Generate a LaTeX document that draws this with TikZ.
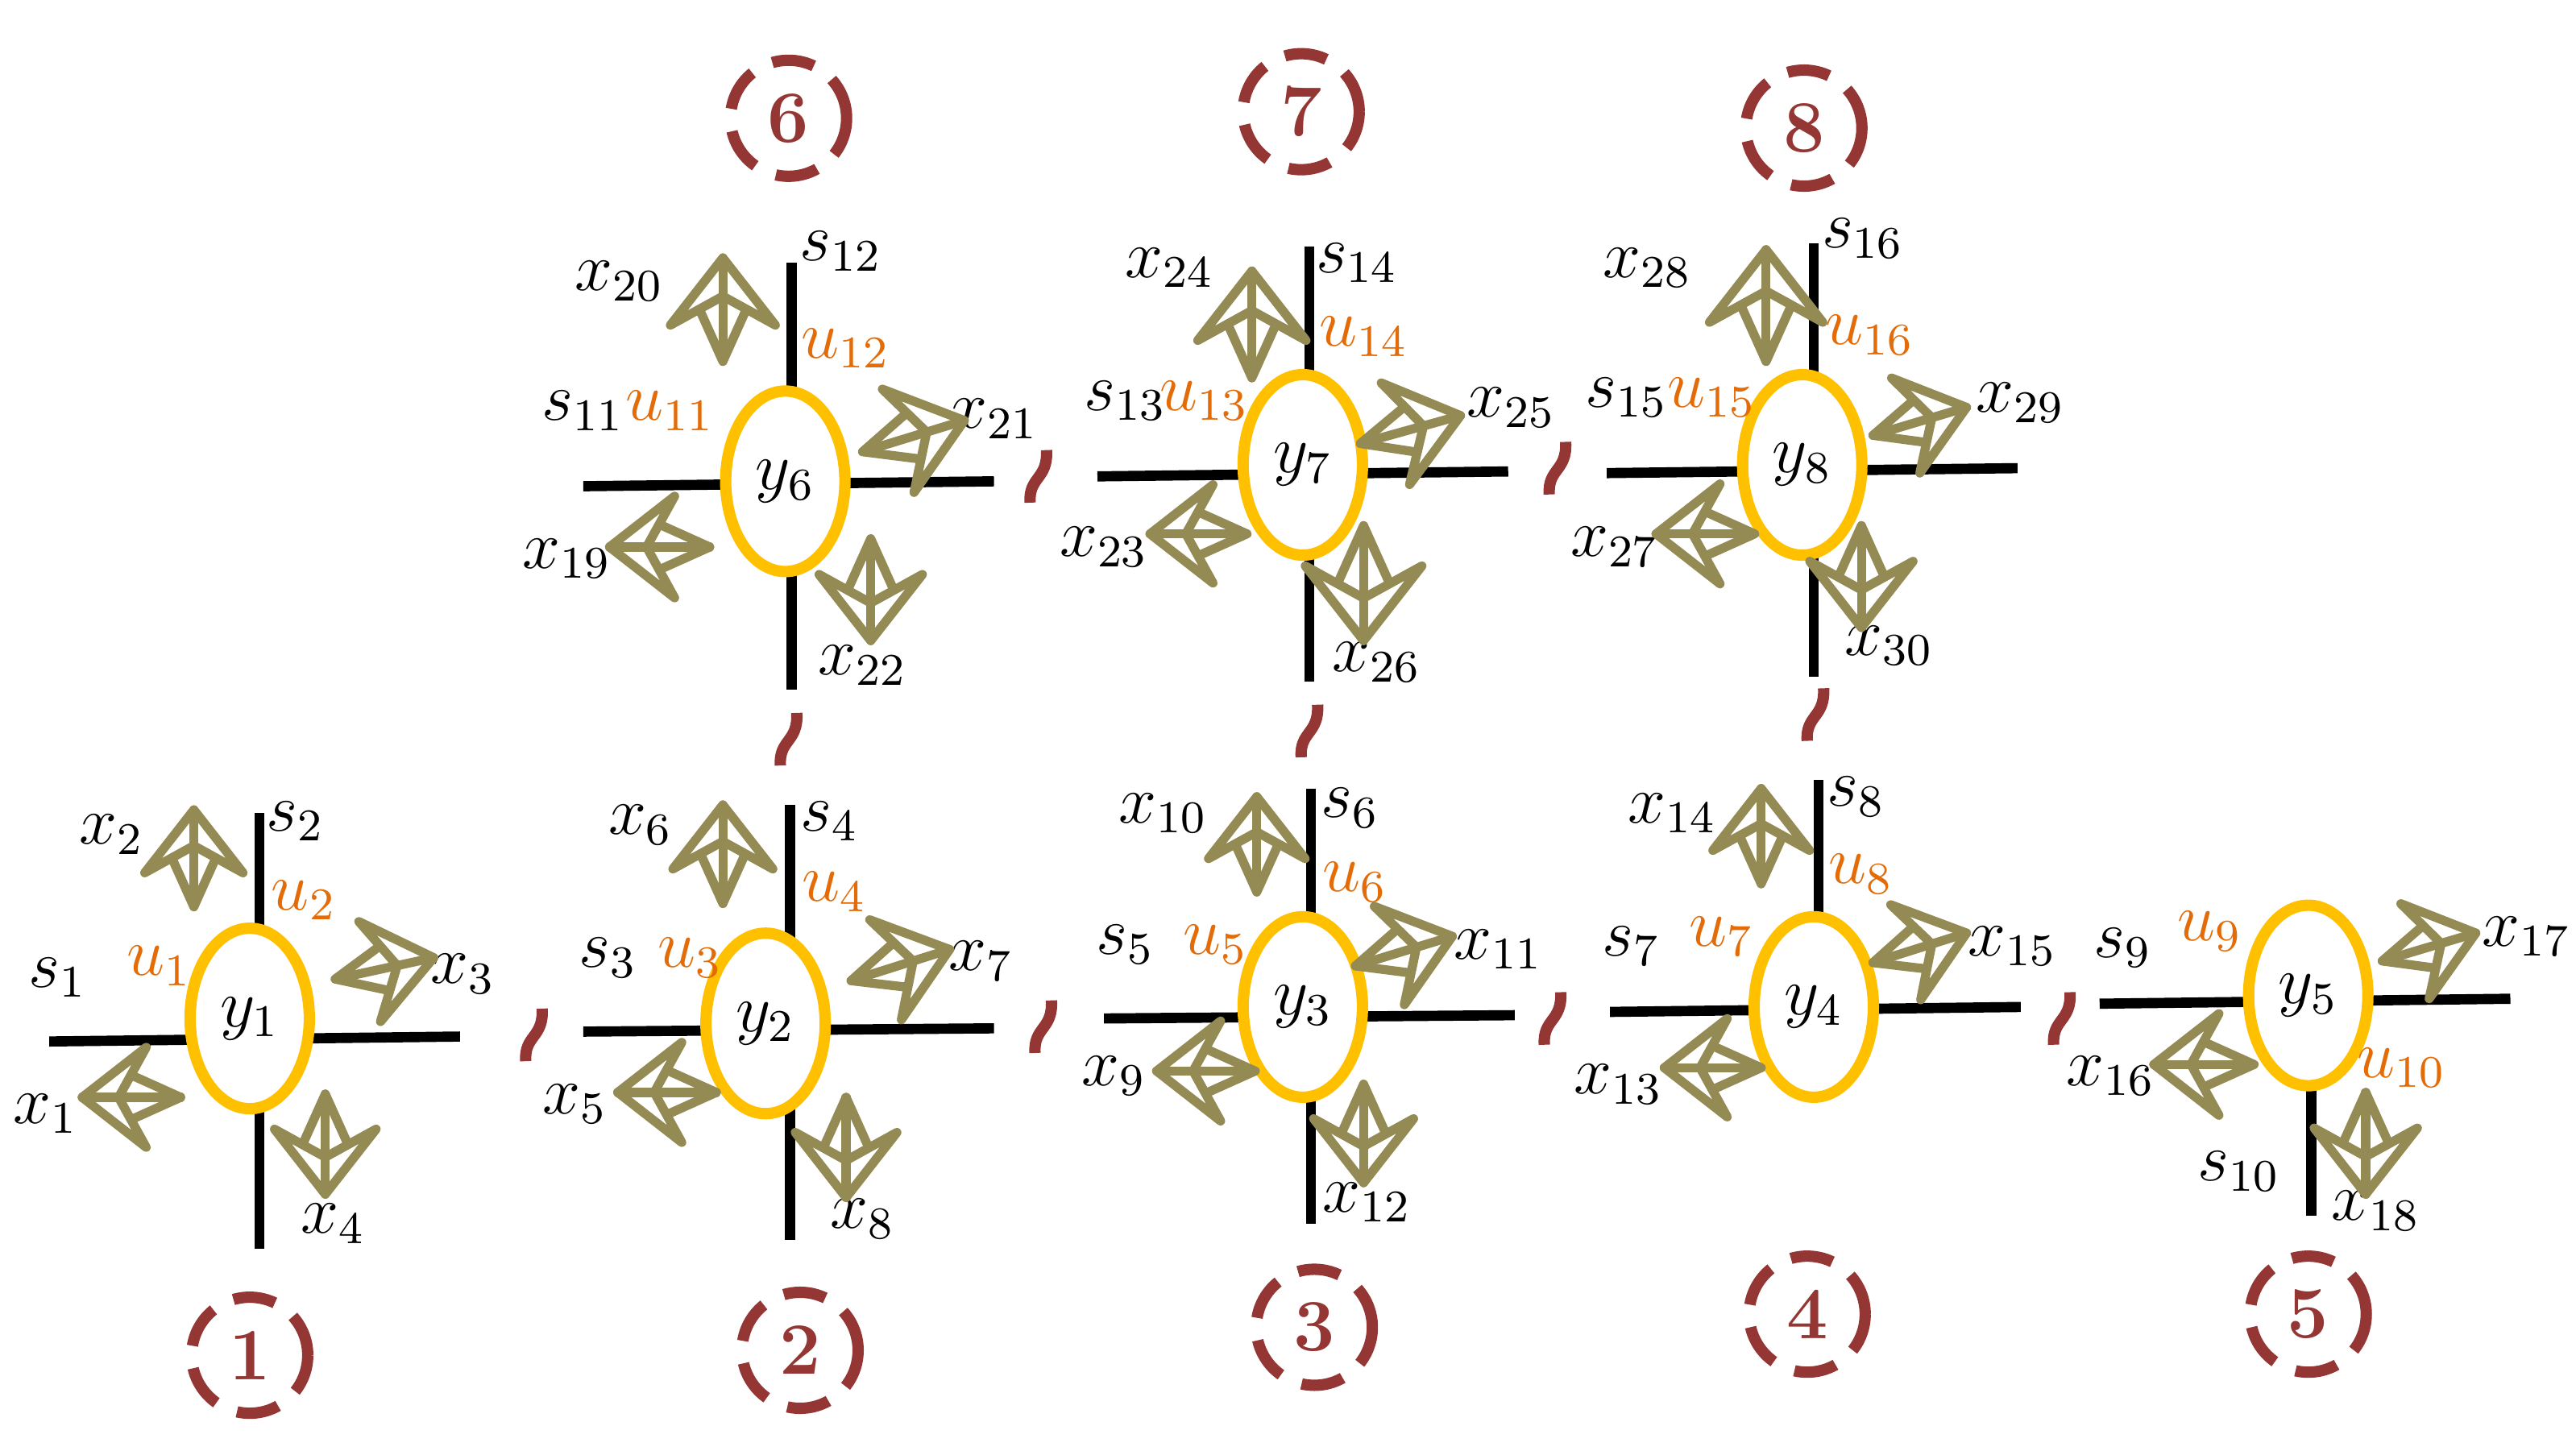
\documentclass[tikz,border=0pt]{standalone}
\usetikzlibrary{calc,shapes.geometric}
\definecolor{ell}{HTML}{FFC000}
\definecolor{uor}{HTML}{E36C09}
\definecolor{olv}{HTML}{948A54}
\definecolor{drd}{HTML}{943634}
\tikzset{
  every node/.style={font=\fontsize{12}{14}\selectfont},
  yell/.style={draw=ell,line width=2pt,ellipse,minimum width=0.74cm,minimum height=1.12cm,inner sep=0pt},
  bar/.style={line width=1.8pt,black},
  arr/.style={line width=1.6pt,olv,line cap=round,line join=round},
  ulab/.style={text=uor},
  num/.style={draw=drd,line width=2pt,dash pattern=on 7.5pt off 4pt,circle,minimum size=0.72cm,inner sep=0pt,text=drd,font=\bfseries\fontsize{13}{15}\selectfont},
  tild/.style={drd,line width=2pt},
}
\newcommand\dar[2]{%
  \coordinate (A) at #1; \coordinate (B) at #2;
  \coordinate (P) at ($(A)!0.65!(B)$);
  \coordinate (N) at ($(A)!0.37!(B)$);
  \coordinate (Q) at ($(A)!0.52!(B)$);
  \coordinate (W1) at ($(P)!1.45!90:(B)$);
  \coordinate (W2) at ($(P)!1.45!-90:(B)$);
  \coordinate (V1) at ($(Q)!0.45!90:(B)$);
  \coordinate (V2) at ($(Q)!0.45!-90:(B)$);
  \draw[arr] (A)--(B);
  \draw[arr] (W1)--(A)--(W2) (W1)--(N)--(W2);
  \draw[arr] (V1)--(B)--(V2);
}
\newcommand\tl[1]{\draw[tild] ($#1+(-5,16)$) .. controls ($#1+(-6,0)$) and ($#1+(6,2)$) .. ($#1+(5,-16)$);}
\begin{document}
\begin{tikzpicture}[x=0.0102cm,y=-0.0102cm]
\useasboundingbox (0,0) rectangle (1568,883);
% cluster 1
\draw[bar] (30,634)--(280,631); \draw[bar] (158,495)--(158,760);
\node[yell,fill=white] (y1) at (152,620) {$y_1$};
\node at (35,595) {$s_1$}; \node at (180,500) {$s_2$};
\node[ulab] at (97,588) {$u_1$}; \node[ulab] at (185,548) {$u_2$};
\node at (28,678) {$x_1$}; \node at (68,508) {$x_2$}; \node at (282,593) {$x_3$}; \node at (203,745) {$x_4$};
\dar{(118,493)}{(118,552)} \dar{(50,668)}{(110,668)} \dar{(264,583)}{(204,596)} \dar{(198,727)}{(198,666)}
% cluster 2
\draw[bar] (355,628)--(605,626); \draw[bar] (481,490)--(481,755);
\node[yell,fill=white] (y2) at (466,623) {$y_2$};
\node at (370,583) {$s_3$}; \node at (505,500) {$s_4$};
\node[ulab] at (420,583) {$u_3$}; \node[ulab] at (508,543) {$u_4$};
\node at (350,672) {$x_5$}; \node at (390,502) {$x_6$}; \node at (597,585) {$x_7$}; \node at (525,742) {$x_8$};
\dar{(440,490)}{(440,550)} \dar{(376,665)}{(436,665)} \dar{(578,578)}{(518,597)} \dar{(515,729)}{(515,668)}
% cluster 3
\draw[bar] (672,620)--(922,618); \draw[bar] (798,480)--(798,745);
\node[yell,fill=white] (y3) at (793,613) {$y_3$};
\node at (685,575) {$s_5$}; \node at (822,492) {$s_6$};
\node[ulab] at (740,575) {$u_5$}; \node[ulab] at (825,537) {$u_6$};
\node at (678,655) {$x_9$}; \node at (708,495) {$x_{10}$}; \node at (912,578) {$x_{11}$}; \node at (832,732) {$x_{12}$};
\dar{(765,485)}{(765,543)} \dar{(704,652)}{(764,652)} \dar{(884,570)}{(825,588)} \dar{(830,720)}{(830,660)}
% cluster 4
\draw[bar] (980,616)--(1230,613); \draw[bar] (1107,475)--(1107,560);
\node[yell,fill=white] (y4) at (1104,613) {$y_4$};
\node at (993,576) {$s_7$}; \node at (1130,485) {$s_8$};
\node[ulab] at (1048,570) {$u_7$}; \node[ulab] at (1133,532) {$u_8$};
\node at (985,660) {$x_{13}$}; \node at (1018,495) {$x_{14}$}; \node at (1225,576) {$x_{15}$};
\dar{(1072,480)}{(1072,538)} \dar{(1013,650)}{(1072,650)} \dar{(1197,568)}{(1140,586)}
% cluster 5
\draw[bar] (1278,611)--(1528,608); \draw[bar] (1407,660)--(1407,740);
\node[yell,fill=white] (y5) at (1405,606) {$y_5$};
\node at (1292,577) {$s_9$}; \node at (1363,713) {$s_{10}$};
\node[ulab] at (1345,567) {$u_9$}; \node[ulab] at (1462,650) {$u_{10}$};
\node at (1285,655) {$x_{16}$}; \node at (1538,570) {$x_{17}$}; \node at (1446,737) {$x_{18}$};
\dar{(1311,648)}{(1372,648)} \dar{(1507,568)}{(1450,585)} \dar{(1440,727)}{(1440,665)}
% cluster 6
\draw[bar] (355,296)--(605,293); \draw[bar] (482,160)--(482,420);
\node[yell,fill=white] (y6) at (478,293) {$y_6$};
\node at (355,250) {$s_{11}$}; \node at (512,153) {$s_{12}$};
\node[ulab] at (408,250) {$u_{11}$}; \node[ulab] at (515,212) {$u_{12}$};
\node at (345,340) {$x_{19}$}; \node at (377,171) {$x_{20}$}; \node at (605,255) {$x_{21}$}; \node at (525,405) {$x_{22}$};
\dar{(440,157)}{(440,220)} \dar{(371,333)}{(432,333)} \dar{(587,256)}{(525,275)} \dar{(530,390)}{(530,328)}
% cluster 7
\draw[bar] (668,290)--(918,287); \draw[bar] (797,150)--(797,415);
\node[yell,fill=white] (y7) at (793,283) {$y_7$};
\node at (685,244) {$s_{13}$}; \node at (826,160) {$s_{14}$};
\node[ulab] at (733,244) {$u_{13}$}; \node[ulab] at (830,205) {$u_{14}$};
\node at (672,333) {$x_{23}$}; \node at (712,163) {$x_{24}$}; \node at (920,248) {$x_{25}$}; \node at (838,403) {$x_{26}$};
\dar{(762,165)}{(762,230)} \dar{(700,325)}{(759,325)} \dar{(889,253)}{(828,270)} \dar{(830,390)}{(830,320)}
% cluster 8
\draw[bar] (978,288)--(1228,285); \draw[bar] (1104,148)--(1104,412);
\node[yell,fill=white] (y8) at (1097,283) {$y_8$};
\node at (990,242) {$s_{15}$}; \node at (1134,145) {$s_{16}$};
\node[ulab] at (1042,242) {$u_{15}$}; \node[ulab] at (1138,204) {$u_{16}$};
\node at (983,333) {$x_{27}$}; \node at (1003,163) {$x_{28}$}; \node at (1230,245) {$x_{29}$}; \node at (1150,393) {$x_{30}$};
\dar{(1075,152)}{(1075,220)} \dar{(1008,325)}{(1068,325)} \dar{(1197,248)}{(1140,265)} \dar{(1133,382)}{(1133,320)}
% numbers
\node[num] (n1) at (152,825) {1}; \node[num] (n2) at (487,822) {2}; \node[num] (n3) at (800,808) {3};
\node[num] (n4) at (1100,800) {4}; \node[num] (n5) at (1405,800) {5};
\node[num] (n6) at (480,72) {6}; \node[num] (n7) at (792,68) {7}; \node[num] (n8) at (1098,78) {8};
% tildes
\tl{(325,630)} \tl{(635,625)} \tl{(945,620)} \tl{(1255,620)}
\tl{(480,450)} \tl{(797,445)} \tl{(1105,435)} \tl{(632,290)} \tl{(948,285)}
\end{tikzpicture}
\end{document}
